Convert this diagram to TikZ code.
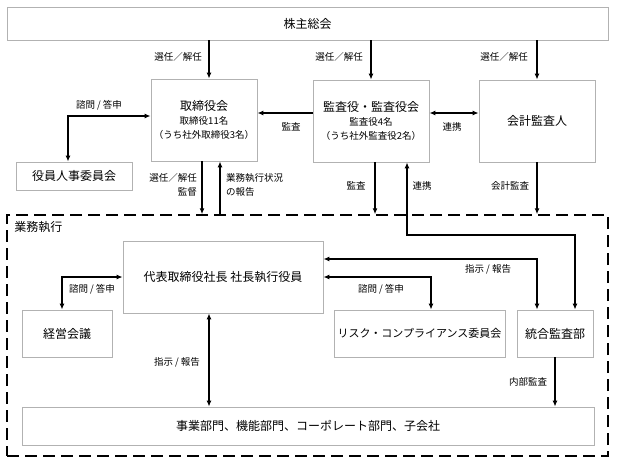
\documentclass[tikz,border=0pt]{standalone}
\usepackage{fontspec}
\setmainfont{Noto Sans CJK JP}
\usetikzlibrary{positioning, arrows.meta}
\newcommand{\subtxt}{\fontsize{9.5}{11.5}\selectfont}
\tikzstyle{box}=[rectangle, draw=gray!60, line width=0.8pt, inner sep=0pt, align=center, font=\fontsize{12}{14}\selectfont]
\tikzstyle{lbl}=[inner sep=0pt, align=center, font=\fontsize{9.5}{13.5}\selectfont]
\tikzstyle{arr}=[-{Latex[length=6pt,width=5pt]}, line width=1.4pt]
\tikzstyle{dbl}=[{Latex[length=6pt,width=5pt]}-{Latex[length=6pt,width=5pt]}, line width=1.4pt]
\tikzstyle{frame}=[rectangle, draw=black, line width=1.5pt, dash pattern=on 12pt off 6pt]

\begin{document}
\begin{tikzpicture}[x=1pt, y=-1pt]
            %governance chart, pixel grid of the source image
            \useasboundingbox (0,0) rectangle (617,466);
            \node[frame, minimum width=601pt, minimum height=241pt](exec) at (307.5,335.5){};
            \node[anchor=north west, inner sep=0pt, font=\fontsize{12}{14}\selectfont](execlbl) at ([xshift=8pt,yshift=-7pt]exec.north west){業務執行};

            \node[box, minimum width=601pt, minimum height=33pt](gm) at (307.5,23.5){株主総会};
            \node[box, minimum width=106pt, minimum height=82pt](board) at (204,120){取締役会\\ \subtxt 取締役11名\\ \subtxt （うち社外取締役3名）};
            \node[box, minimum width=116pt, minimum height=82pt](kansa) at (371,121){監査役・監査役会\\ \subtxt 監査役4名\\ \subtxt （うち社外監査役2名）};
            \node[box, minimum width=116pt, minimum height=82pt](acct) at (537,121){会計監査人};
            \node[box, minimum width=116pt, minimum height=28pt](nomcom) at (74,176){役員人事委員会};

            \node[box, minimum width=200pt, minimum height=72pt](ceo) at (223,277){代表取締役社長 社長執行役員};
            \node[box, minimum width=90pt, minimum height=47pt](mgmt) at (67,333.5){経営会議};
            \node[box, minimum width=171pt, minimum height=47pt, font=\fontsize{11}{13}\selectfont](risk) at (419.5,333.5){リスク・コンプライアンス委員会};
            \node[box, minimum width=76pt, minimum height=47pt](ia) at (555,333.5){統合監査部};
            \node[box, minimum width=572pt, minimum height=38pt](ops) at (308,426){事業部門、機能部門、コーポレート部門、子会社};
            \coordinate(lk) at (407,235);

            \draw[arr]([xshift=5pt]board.north |- gm.south) to ([xshift=5pt]board.north);
            \draw[arr](kansa.north |- gm.south) to (kansa.north);
            \draw[arr](acct.north |- gm.south) to (acct.north);
            \node[lbl](l1) at (178,57){選任／解任};
            \node[lbl](l2) at (339,57){選任／解任};
            \node[lbl](l3) at (504,57){選任／解任};

            \draw[dbl]([yshift=4pt]board.west) -| ([xshift=-6pt]nomcom.north);
            \node[lbl](l4) at (99,105){諮問 / 答申};
            \draw[arr]([yshift=8pt]kansa.west) to ([yshift=8pt]kansa.west -| board.east);
            \node[lbl](l5) at (291,127){監査};
            \draw[dbl]([yshift=8pt]kansa.east) to ([yshift=8pt]kansa.east -| acct.west);
            \node[lbl](l6) at (452,127){連携};

            \draw[arr]([xshift=-2pt]board.south) to ([xshift=-2pt]board.south |- exec.north);
            \draw[arr]([xshift=16pt]board.south |- exec.north) to ([xshift=16pt]board.south);
            \node[lbl, anchor=east, align=right](l7) at (197,185){選任／解任\\監督};
            \node[lbl, anchor=west, align=left](l8) at (226,185){業務執行状況\\の報告};
            \draw[arr]([xshift=4pt]kansa.south) to ([xshift=4pt]kansa.south |- exec.north);
            \node[lbl](l9) at (356,186){監査};
            \draw[dbl]([xshift=36pt]kansa.south) to (lk) -| ([xshift=20pt]ia.north);
            \node[lbl](l10) at (422,186){連携};
            \draw[arr](acct.south) to (acct.south |- exec.north);
            \node[lbl](l11) at (510,186){会計監査};

            \draw[dbl]([yshift=18pt]ceo.east) -| ([xshift=-18pt]ia.north);
            \node[lbl](l12) at (488,269){指示 / 報告};
            \draw[dbl](ceo.east) -| ([xshift=11.5pt]risk.north);
            \node[lbl](l13) at (381,289){諮問 / 答申};
            \draw[dbl](ceo.west) -| ([xshift=-5pt]mgmt.north);
            \node[lbl](l14) at (92,289){諮問 / 答申};
            \draw[dbl]([xshift=-14pt]ceo.south) to ([xshift=-14pt]ceo.south |- ops.north);
            \node[lbl](l15) at (177,362){指示 / 報告};
            \draw[arr](ia.south) to (ia.south |- ops.north);
            \node[lbl](l16) at (528,382){内部監査};

        \end{tikzpicture}
\end{document}
